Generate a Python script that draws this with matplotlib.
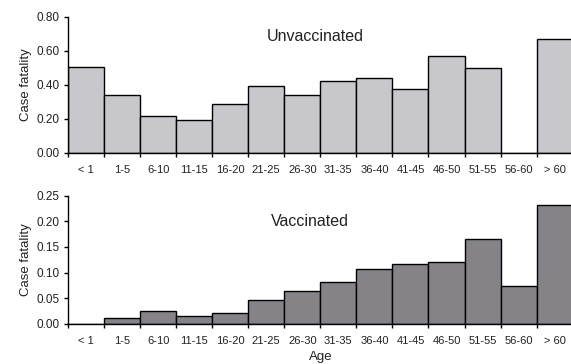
import numpy as np
import matplotlib
matplotlib.use('Agg')
import matplotlib.pyplot as plt
from matplotlib.ticker import FixedLocator, FormatStrFormatter

plt.rcParams['font.family'] = ['Liberation Sans', 'DejaVu Sans']

age_groups = ['< 1', '1-5', '6-10', '11-15', '16-20', '21-25', '26-30', '31-35',
              '36-40', '41-45', '46-50', '51-55', '56-60', '> 60']
unvaccinated = [0.508, 0.341, 0.216, 0.194, 0.286, 0.396, 0.341, 0.425,
                0.439, 0.376, 0.571, 0.502, 0.0, 0.669]
vaccinated = [0.0, 0.012, 0.026, 0.016, 0.021, 0.047, 0.065, 0.081,
              0.107, 0.116, 0.121, 0.166, 0.074, 0.232]

fig = plt.figure(figsize=(5.71, 3.64), dpi=100)
ax_top = fig.add_axes([0.119, 0.5797, 0.884, 0.3736])
ax_bot = fig.add_axes([0.119, 0.110, 0.884, 0.3524])


def draw_panel(ax, values, color, ymax, ystep, title, title_xy):
    x = np.arange(len(values))
    ax.bar(x, values, width=1.0, color=color, edgecolor='black', linewidth=1.0)
    ax.set_xlim(-0.5, len(values) - 0.5)
    ax.set_ylim(0, ymax)
    ax.set_yticks(np.arange(0, ymax + ystep / 2, ystep))
    ax.yaxis.set_major_formatter(FormatStrFormatter('%.2f'))
    ax.xaxis.set_major_locator(FixedLocator(np.arange(-0.5, len(values), 1.0)))
    ax.xaxis.set_minor_locator(FixedLocator(x))
    ax.set_xticklabels([])
    ax.set_xticklabels(age_groups, minor=True)
    ax.tick_params(axis='x', which='major', direction='out', length=3, width=1)
    ax.tick_params(axis='x', which='minor', length=0, pad=9, labelsize=8, colors='#222222')
    ax.tick_params(axis='y', direction='out', length=3, width=1, labelsize=8.5, pad=3,
                   labelcolor='#222222')
    for side in ['top', 'right']:
        ax.spines[side].set_visible(False)
    ax.spines['left'].set_linewidth(1)
    ax.spines['bottom'].set_linewidth(1)
    ax.set_ylabel('Case fatality', fontsize=9.5, labelpad=3, color='#222222')
    ax.text(title_xy[0], title_xy[1], title, transform=ax.transAxes,
            fontsize=11.5, ha='center', va='center', color='#222222')


draw_panel(ax_top, unvaccinated, '#c8c7cc', 0.8, 0.2, 'Unvaccinated', (0.49, 0.86))
draw_panel(ax_bot, vaccinated, '#858388', 0.25, 0.05, 'Vaccinated', (0.48, 0.80))
ax_bot.set_xlabel('Age', fontsize=9.5, labelpad=3, color='#222222')

fig.savefig('out.png', dpi=100)
